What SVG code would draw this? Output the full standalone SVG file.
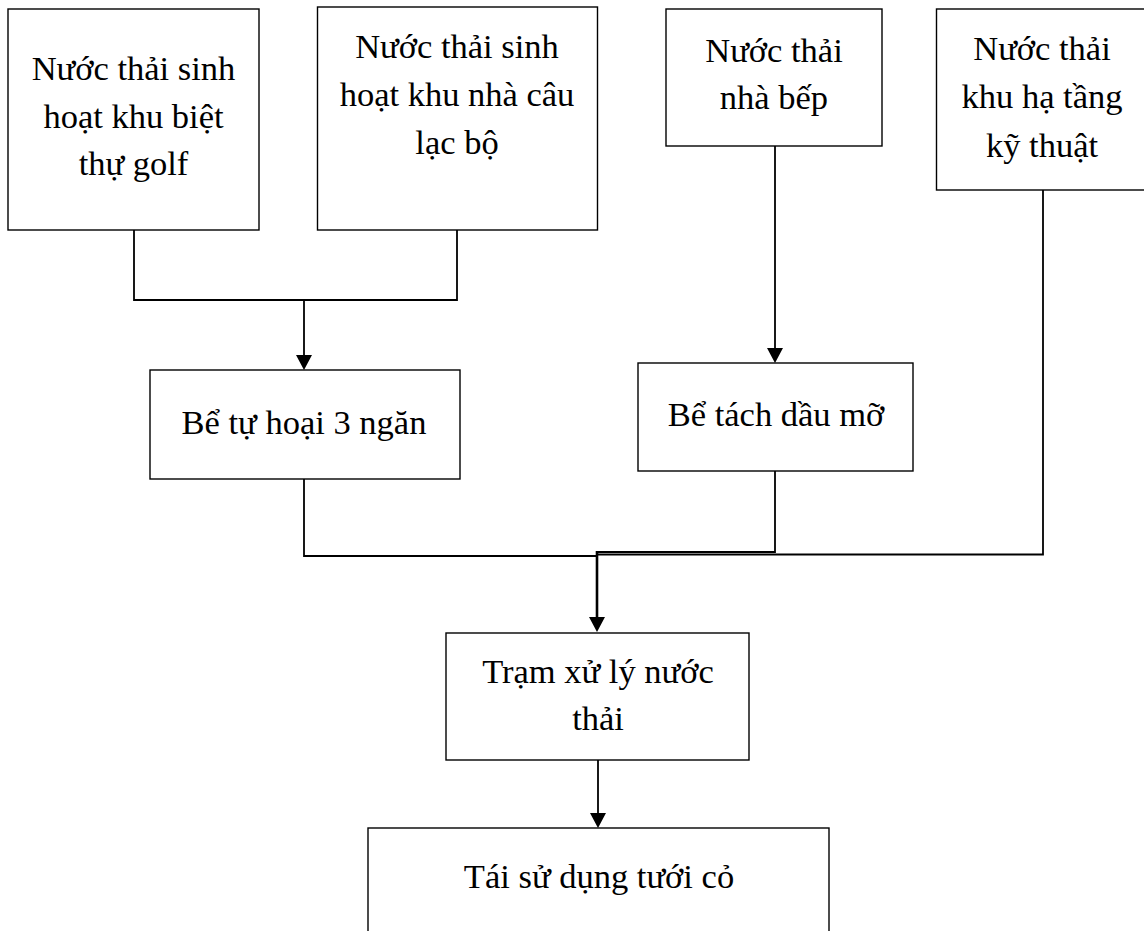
<svg xmlns="http://www.w3.org/2000/svg" width="1144" height="931" viewBox="0 0 1144 931">
  <defs>
    <style>
      .box { fill: #fff; stroke: #000; stroke-width: 1.4; }
      .lbl { font-family: "Liberation Serif", "Times New Roman", serif; font-size: 34.5px; fill: #000; text-anchor: middle; }
      .wire { fill: none; stroke: #000; stroke-width: 1.8; }
      .wire-bold { fill: none; stroke: #000; stroke-width: 2.6; }
      .head { fill: #000; }
    </style>
  </defs>
  <rect width="1144" height="931" fill="#fff"/>

  <!-- connectors -->
  <g id="connectors">
    <!-- biệt thự + câu lạc bộ merge into septic tank -->
    <polyline class="wire" points="134,230 134,300 457,300 457,230"/>
    <line class="wire" x1="304" y1="300" x2="304" y2="356"/>
    <path class="head" d="M296,355 L312,355 L304,370 Z"/>
    <!-- kitchen to grease trap -->
    <line class="wire" x1="775" y1="146" x2="775" y2="349"/>
    <path class="head" d="M767,348 L783,348 L775,363 Z"/>
    <!-- collectors into the treatment plant -->
    <polyline class="wire" points="304,479 304,556 597,556"/>
    <polyline class="wire" points="775,471 775,552 597,552"/>
    <polyline class="wire" points="1043,190 1043,554.5 597,554.5"/>
    <line class="wire-bold" x1="597" y1="551" x2="597" y2="618"/>
    <path class="head" d="M589,617 L605,617 L597,632 Z"/>
    <!-- treatment plant to reuse -->
    <line class="wire" x1="598" y1="760" x2="598" y2="814"/>
    <path class="head" d="M590,813 L606,813 L598,828 Z"/>
  </g>

  <g id="src-biet-thu">
    <rect class="box" x="8" y="9" width="251" height="221"/>
    <text class="lbl" x="133.5" y="80">Nước thải sinh</text>
    <text class="lbl" x="133.5" y="128">hoạt khu biệt</text>
    <text class="lbl" x="133.5" y="175">thự golf</text>
  </g>

  <g id="src-cau-lac-bo">
    <rect class="box" x="317.5" y="7" width="280" height="223"/>
    <text class="lbl" x="457" y="58">Nước thải sinh</text>
    <text class="lbl" x="457" y="106">hoạt khu nhà câu</text>
    <text class="lbl" x="457" y="154">lạc bộ</text>
  </g>

  <g id="src-nha-bep">
    <rect class="box" x="666" y="9" width="216" height="137"/>
    <text class="lbl" x="774" y="62">Nước thải</text>
    <text class="lbl" x="774" y="109">nhà bếp</text>
  </g>

  <g id="src-ha-tang">
    <rect class="box" x="936.5" y="9" width="215" height="181"/>
    <text class="lbl" x="1042" y="60">Nước thải</text>
    <text class="lbl" x="1042" y="108">khu hạ tầng</text>
    <text class="lbl" x="1042" y="157">kỹ thuật</text>
  </g>

  <g id="be-tu-hoai">
    <rect class="box" x="150" y="370" width="310" height="109"/>
    <text class="lbl" x="304" y="434">Bể tự hoại 3 ngăn</text>
  </g>

  <g id="be-tach-dau-mo">
    <rect class="box" x="638" y="363" width="275" height="108"/>
    <text class="lbl" x="776" y="426">Bể tách dầu mỡ</text>
  </g>

  <g id="tram-xu-ly">
    <rect class="box" x="446" y="633" width="303" height="127"/>
    <text class="lbl" x="598" y="683">Trạm xử lý nước</text>
    <text class="lbl" x="598" y="730">thải</text>
  </g>

  <g id="tai-su-dung">
    <rect class="box" x="368" y="828" width="461" height="140"/>
    <text class="lbl" x="599" y="888">Tái sử dụng tưới cỏ</text>
  </g>
</svg>
